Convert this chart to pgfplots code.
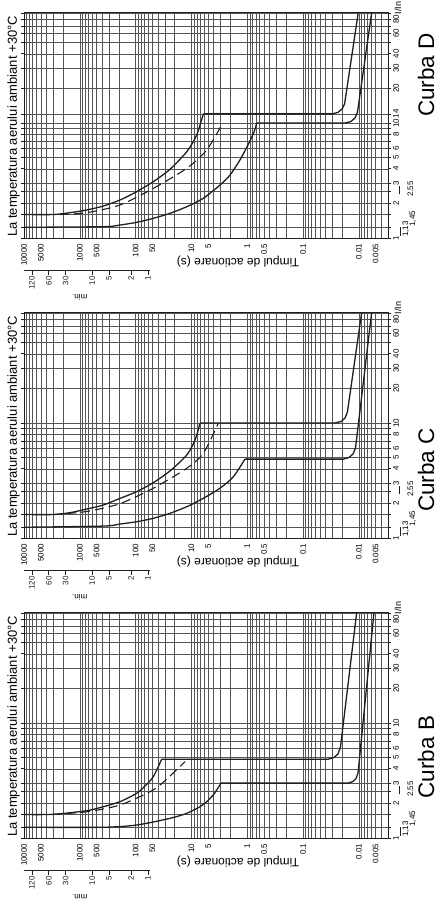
\documentclass[border=0pt]{standalone}
\usepackage{fontspec}
\setmainfont{Liberation Sans}
\usepackage{pgfplots}
\pgfplotsset{compat=1.18}

\definecolor{ink}{HTML}{1F1F1F}
\definecolor{rule}{HTML}{555555}
\newcommand{\tickfont}{\fontsize{8}{9}\selectfont}

\pgfplotsset{
  curba/.style={
    scale only axis, width=364pt, height=226pt,
    x dir=reverse,
    xmin=0.003, xmax=10000, ymin=1, ymax=92.3,
    clip=false,
    axis line style={ink, line width=0.9pt},
    xtick={10000,5000,1000,500,100,50,10,5,1,0.5,0.1,0.01,0.005},
    xticklabels={10000,5000,1000,500,100,50,10,5,1,0.5,0.1,0.01,0.005},
    minor xtick={0.003,0.004,0.005,0.006,0.007,0.008,0.009,
      0.02,0.03,0.04,0.05,0.06,0.07,0.08,0.09,
      0.2,0.3,0.4,0.5,0.6,0.7,0.8,0.9,
      2,3,4,5,6,7,8,9,20,30,40,50,60,70,80,90,
      200,300,400,500,600,700,800,900,
      2000,3000,4000,5000,6000,7000,8000,9000},
    ytick={1,2,3,4,5,6,8,10,20,30,40,60,80},
    yticklabels={1,2,3,4,5,6,8,10,20,30,40,60,80},
    minor ytick={1.24,1.6,2.55,7,9,50,70,90},
    grid=both,
    major grid style={rule, line width=0.5pt},
    minor grid style={rule, line width=0.5pt},
    xtick style={draw=none}, xminorticks=false, yminorticks=false,
    tick align=outside, major tick length=3.5pt,
    ytick style={ink, line width=0.6pt},
    yticklabel pos=right,
    xticklabel style={rotate=90, anchor=east, font=\tickfont, inner sep=2pt},
    yticklabel style={rotate=90, anchor=north, font=\tickfont, inner sep=1.5pt},
  },
  curve/.style={ink, line width=1.3pt, mark=none},
  dashcurve/.style={ink, mark=none, dash pattern=on 9pt off 5pt, line width=1.1pt},
}

% texts and the minutes scale, the same on every panel
\newcommand{\decor}[2]{%
  \node[rotate=90, anchor=base west, inner sep=0pt, font=\fontsize{13}{15}\selectfont]
    at ([xshift=-7pt,yshift=1pt]axis cs:10000,1) {La temperatura aerului ambiant +30°C};
  \node[rotate=180, inner sep=0pt, font=\fontsize{12}{14}\selectfont]
    at ([yshift=-24pt]axis cs:1.46,1) {Timpul de actionare (s)};
  \node[rotate=90, inner sep=0pt, font=\fontsize{9}{10}\selectfont]
    at ([xshift=10pt,yshift=4pt]axis cs:0.003,92.3) {I/In};
  \node[rotate=90, anchor=base west, inner sep=0pt, font=\tickfont] at ([xshift=20pt,yshift=1pt]axis cs:0.003,1) {1,13};
  \node[rotate=90, anchor=base west, inner sep=0pt, font=\tickfont] at ([xshift=27pt]axis cs:0.003,1.25) {1,45};
  \node[rotate=90, anchor=base west, inner sep=0pt, font=\tickfont] at ([xshift=25pt]axis cs:0.003,2.27) {2.55};
  \draw[ink, line width=0.5pt] ([xshift=11pt]axis cs:0.003,2.4) -- ([xshift=11pt]axis cs:0.003,2.85);
  \draw[ink, line width=0.5pt] ([xshift=12pt]axis cs:0.003,1.05) -- ([xshift=12pt]axis cs:0.003,1.25);
  \draw[ink, line width=0.7pt] ([yshift=-32pt]axis cs:10000,1) -- ([yshift=-32pt]axis cs:55,1);
  \draw[ink, line width=0.6pt] ([yshift=-32pt]axis cs:7200,1) -- ++(0pt,-5pt) node[rotate=90, anchor=east, font=\tickfont, inner sep=1pt] {120};
  \draw[ink, line width=0.6pt] ([yshift=-32pt]axis cs:3600,1) -- ++(0pt,-5pt) node[rotate=90, anchor=east, font=\tickfont, inner sep=1pt] {60};
  \draw[ink, line width=0.6pt] ([yshift=-32pt]axis cs:1800,1) -- ++(0pt,-5pt) node[rotate=90, anchor=east, font=\tickfont, inner sep=1pt] {30};
  \draw[ink, line width=0.6pt] ([yshift=-32pt]axis cs:600,1) -- ++(0pt,-5pt) node[rotate=90, anchor=east, font=\tickfont, inner sep=1pt] {10};
  \draw[ink, line width=0.6pt] ([yshift=-32pt]axis cs:300,1) -- ++(0pt,-5pt) node[rotate=90, anchor=east, font=\tickfont, inner sep=1pt] {5};
  \draw[ink, line width=0.6pt] ([yshift=-32pt]axis cs:120,1) -- ++(0pt,-5pt) node[rotate=90, anchor=east, font=\tickfont, inner sep=1pt] {2};
  \draw[ink, line width=0.6pt] ([yshift=-32pt]axis cs:60,1) -- ++(0pt,-5pt) node[rotate=90, anchor=east, font=\tickfont, inner sep=1pt] {1};
  \node[rotate=180, inner sep=0pt, font=\tickfont] at ([yshift=-59pt]axis cs:1000,1) {min.};
  \node[rotate=90, inner sep=0pt, font=\fontsize{22.5}{24}\selectfont]
    at ([xshift=38pt]axis cs:0.003,#2) {Curba #1};
}

\begin{document}
\begin{tikzpicture}
\useasboundingbox (0pt,0pt) rectangle (439pt,-899pt);

% ---------------- Curba D
\begin{loglogaxis}[curba, at={(24pt,-238pt)}, anchor=south west,
    ytick={1,2,3,4,5,6,8,10,12,20,30,40,60,80},
    yticklabels={1,2,3,4,5,6,8,10,14,20,30,40,60,80}]
\addplot[curve, smooth, tension=0.45] coordinates {(10000,1.6) (2985,1.6) (1500,1.66) (752,1.752) (379,1.897)
  (190.5,2.14) (95.5,2.53) (48.2,3.09) (24.2,3.96) (12.1,5.63) (8.04,7.87) (6.12,12)};
\addplot[curve, sharp plot] coordinates {(6.12,12) (0.0306,12) (0.0236,12.35) (0.02,13.24) (0.018,14.63) (0.0102,92.3)};
\addplot[curve, smooth, tension=0.45] coordinates {(10000,1.24) (379,1.254) (190.5,1.297) (95.5,1.369) (48.2,1.483)
  (24.2,1.64) (12.1,1.872) (6.12,2.214) (3.07,2.89) (2.03,3.53) (1.35,4.77) (0.97,6.44) (0.755,8.35) (0.676,10)};
\addplot[curve, sharp plot] coordinates {(0.676,10) (0.0177,10) (0.0138,10.3) (0.0117,11.05) (0.01055,12.47) (0.00587,92.3)};
\addplot[dashcurve, smooth, tension=0.45] coordinates {(2265,1.6) (752,1.66) (190.5,1.936) (48.2,2.70)
  (12.1,4.04) (5.32,5.82) (2.95,9.4)};
\decor{D}{26.2}
\end{loglogaxis}

% ---------------- Curba C
\begin{loglogaxis}[curba, at={(24pt,-538pt)}, anchor=south west]
\addplot[curve, smooth, tension=0.45] coordinates {(10000,1.6) (2985,1.6) (1500,1.66) (752,1.787) (379,1.936)
  (190.5,2.21) (95.5,2.53) (48.2,3.03) (24.2,3.83) (12.1,5.27) (8.6,7.11) (7.0,10)};
\addplot[curve, sharp plot] coordinates {(7.0,10) (0.0267,10) (0.0208,10.3) (0.0177,11.05) (0.016,12.47) (0.00887,92.3)};
\addplot[curve, smooth, tension=0.45] coordinates {(10000,1.24) (379,1.27) (190.5,1.323) (95.5,1.386) (48.2,1.483)
  (24.2,1.64) (12.1,1.872) (6.12,2.214) (3.07,2.71) (1.77,3.41) (1.1,4.85)};
\addplot[curve, sharp plot] coordinates {(1.1,4.85) (0.019,4.85) (0.015,5.01) (0.0127,5.38) (0.01146,6.06) (0.00587,92.3)};
\addplot[dashcurve, smooth, tension=0.45] coordinates {(2985,1.6) (752,1.70) (190.5,1.99) (48.2,2.71)
  (12.1,4.04) (6.12,5.45) (3.3,9.94)};
\decor{C}{3.9}
\end{loglogaxis}

% ---------------- Curba B
\begin{loglogaxis}[curba, at={(24pt,-838pt)}, anchor=south west]
\addplot[curve, smooth, tension=0.45] coordinates {(10000,1.6) (2985,1.607) (752,1.727) (379,1.872) (190.5,2.07)
  (95.5,2.45) (67.9,2.83) (48.2,3.41) (34.1,4.85)};
\addplot[curve, sharp plot] coordinates {(34.1,4.85) (0.0352,4.85) (0.0278,5.01) (0.0236,5.38) (0.0213,6.19) (0.0109,92.3)};
\addplot[curve, smooth, tension=0.45] coordinates {(10000,1.24) (379,1.24) (95.5,1.297) (24.2,1.483) (12.1,1.64)
  (7.0,1.872) (5.32,2.07) (4.05,2.37) (3.34,2.72) (2.95,3.0)};
\addplot[curve, sharp plot] coordinates {(2.95,3) (0.0156,3) (0.0127,3.1) (0.01122,3.29) (0.01033,3.67) (0.00534,92.3)};
\addplot[dashcurve, smooth, tension=0.45] coordinates {(2985,1.607) (752,1.69) (190.5,1.936) (48.2,2.62)
  (24.2,3.46) (13,4.61)};
\decor{B}{5.06}
\end{loglogaxis}
\end{tikzpicture}
\end{document}
